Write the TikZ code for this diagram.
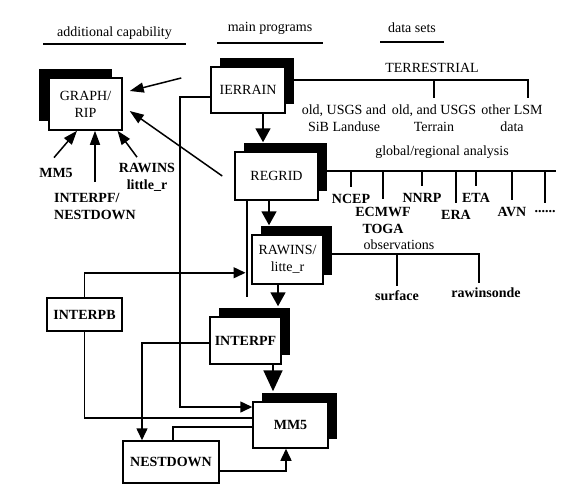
\documentclass[tikz,border=0pt]{standalone}
\usepackage{fontspec}
\setmainfont{Liberation Serif}
\usetikzlibrary{arrows.meta,shadows,calc}
\newcommand{\diagfont}{\fontsize{14}{17}\selectfont}

\begin{document}
\begin{tikzpicture}[x=1pt, y=-1pt, line width=1.5pt, font=\diagfont,
        box/.style={draw, fill=white, align=center, inner sep=2pt},
        shbox/.style={box, drop shadow={shadow xshift=9pt, shadow yshift=9pt,
                      fill=black, opacity=1}},
        lshbox/.style={box, drop shadow={shadow xshift=-10pt, shadow yshift=9pt,
                      fill=black, opacity=1}},
        bold/.style={font=\diagfont\bfseries},
        lbl/.style={align=center, inner sep=2pt},
        hdr/.style={inner sep=0pt},
        thinarrow/.style={-{Triangle[width=10pt,length=14pt]}},
        medarrow/.style={-{Triangle[width=11pt,length=12pt]}},
        bigarrow/.style={line width=1.8pt, -{Triangle[width=15pt,length=14pt]}},
        hugearrow/.style={line width=1.8pt, -{Triangle[width=19pt,length=21pt]}}]
      \useasboundingbox (0,0) rectangle (585,490);
      % Column titles
      \node[hdr, minimum width=141pt, minimum height=20pt] (hdradd) at (114.5,33)
            {additional capability};
      \node[hdr, minimum width=104pt, minimum height=28pt] (hdrmain) at (270,28)
            {main programs};
      \node[hdr, minimum width=62pt, minimum height=26pt] (hdrdata) at (412,28)
            {data sets};
      \foreach \n in {hdradd,hdrmain,hdrdata}
        \draw (\n.south west) -- (\n.south east);
      % Programs
      \node[lshbox, minimum width=73pt, minimum height=52pt] (graph) at (85.5,104)
            {GRAPH/\\RIP};
      \node[shbox, minimum width=74pt, minimum height=46pt] (terrain) at (248,90)
            {IERRAIN};
      \node[shbox, minimum width=83pt, minimum height=48pt] (regrid) at (276.5,176)
            {REGRID};
      \node[shbox, minimum width=71pt, minimum height=49pt] (rawins) at (287.5,259.5)
            {RAWINS/\\litte\_r};
      \node[shbox, bold, minimum width=71pt, minimum height=47pt] (interpf) at (245.5,340.5)
            {INTERPF};
      \node[shbox, bold, minimum width=75pt, minimum height=46pt] (mm5) at (290.5,425)
            {MM5};
      \node[box, bold, minimum width=75pt, minimum height=33pt] (interpb) at (84.5,314.5)
            {INTERPB};
      \node[box, bold, minimum width=96pt, minimum height=42pt] (nestdown) at (171,462)
            {NESTDOWN};
      % Inputs of GRAPH/RIP
      \node[lbl, bold] (lblmm5) at (56,173) {MM5};
      \node[lbl, bold, align=left] (lblinterp) at (95,206) {INTERPF/\\NESTDOWN};
      \node[lbl, bold] (lblraw) at (147,177) {RAWINS\\little\_r};
      % Data sets
      \node[lbl] (lblterr) at (432,68) {TERRESTRIAL};
      \node[lbl] (lblsib)  at (344,118) {old, USGS and\\SiB Landuse};
      \node[lbl] (lbltopo) at (434,118) {old, and USGS\\Terrain};
      \node[lbl] (lbllsm)  at (512,118) {other LSM\\data};
      \node[lbl] (lblglob) at (442,152) {global/regional analysis};
      \node[lbl, bold] (ncep)  at (351,199) {NCEP};
      \node[lbl, bold] (ecmwf) at (383,220) {ECMWF\\TOGA};
      \node[lbl, bold] (nnrp)  at (422,198) {NNRP};
      \node[lbl, bold] (era)   at (456,215) {ERA};
      \node[lbl, bold] (eta)   at (476,198) {ETA};
      \node[lbl, bold] (avn)   at (512,212) {AVN};
      \node[lbl, bold] (dots)  at (545,212) {......};
      \node[lbl] (lblobs) at (399,245) {observations};
      \node[lbl, bold] (lblsfc)  at (397,296) {surface};
      \node[lbl, bold] (lblraob) at (486,293) {rawinsonde};
      % Main chain
      \draw[bigarrow, shorten >=9pt] ([xshift=15pt]terrain.south) -- ([xshift=-13.5pt]regrid.north);
      \draw[bigarrow, shorten >=9pt] ([xshift=-7.5pt]regrid.south) -- ([xshift=-18.5pt]rawins.north);
      \draw[bigarrow, shorten >=10pt] ([xshift=-9.5pt]rawins.south) -- ([xshift=32.5pt]interpf.north);
      \draw[hugearrow, shorten >=10pt] ([xshift=27.5pt]interpf.south) -- ([xshift=-17.5pt]mm5.north);
      % Arrows to GRAPH/RIP
      \draw[thinarrow] ([xshift=-29pt,yshift=12pt]terrain.west) -- ([xshift=7pt,yshift=13pt]graph.east);
      \draw[thinarrow] ([xshift=-12pt]regrid.west) -- ([xshift=7pt,yshift=-7pt]graph.east);
      \draw[thinarrow] ([xshift=-2pt,yshift=8pt]lblmm5.north) -- ([xshift=-8.5pt]graph.south);
      \draw[thinarrow] ([yshift=8pt]lblinterp.north) -- ([xshift=9.5pt]graph.south);
      \draw[thinarrow] ([xshift=-10pt,yshift=3pt]lblraw.north) -- ([xshift=32pt]graph.south);
      % Side connections
      \coordinate (trunk) at (180,300);
      \draw[medarrow] ([yshift=-7pt]terrain.west) -| (trunk) |- ([yshift=18pt]mm5.west);
      \draw ([xshift=-29.5pt]regrid.south) -- ++(0,96) coordinate[pos=.75] (brin);
      \draw[medarrow, shorten >=1.5pt] (interpb.north) |- (brin);
      \draw (interpb.south) |- ([yshift=7pt]mm5.west);
      \draw[medarrow] ([yshift=-2.5pt]interpf.west) -| ([xshift=-29pt]nestdown.north);
      \draw ([xshift=2pt]nestdown.north) |- ([yshift=-2pt]mm5.west);
      \draw[medarrow] ([yshift=-9pt]nestdown.east) -| ([xshift=-4.5pt]mm5.south);
      % Data set lines
      \draw ([yshift=10pt]terrain.east) -- ++(242,0) coordinate (tend) -- ++(0,18);
      \draw (lbltopo.north |- tend) -- ([yshift=4pt]lbltopo.north);
      \draw ([yshift=5pt]regrid.east) -- ++(237,0) coordinate (gend);
      \foreach \n in {ncep,ecmwf,nnrp,era,eta,avn,dots}
        \draw (\n.north |- gend) -- ([yshift=5pt]\n.north);
      \coordinate (obs) at ([yshift=5.5pt]rawins.east);
      \draw (obs) -| ([xshift=-7pt,yshift=2pt]lblraob.north);
      \draw (lblsfc.north |- obs) -- ([yshift=2pt]lblsfc.north);
    \end{tikzpicture}
\end{document}
